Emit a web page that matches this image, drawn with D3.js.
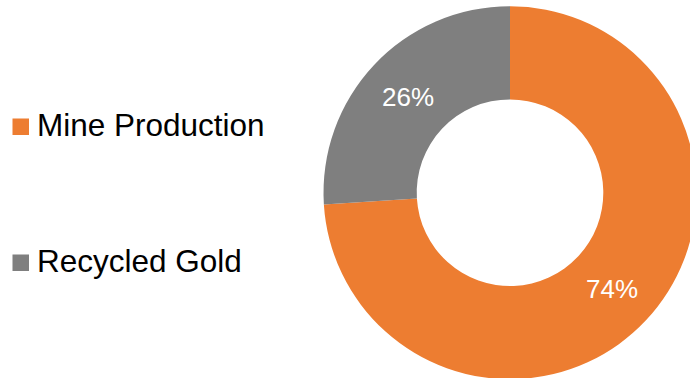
<!DOCTYPE html>
<html>
<head>
<meta charset="utf-8">
<script src="https://cdn.jsdelivr.net/npm/d3@7"></script>
<style>
  html, body { margin: 0; padding: 0; background: #fff; }
  svg { display: block; font-family: "Liberation Sans", Arial, sans-serif; }
</style>
</head>
<body>
<script>
// data
const categories = ["Mine Production", "Recycled Gold"];
const shares = [74, 26];
const colors = ["#ED7D31", "#7F7F7F"];

const width = 690, height = 378;
const cx = 510, cy = 192.7;
const outerR = 186.5, innerR = 93.3;

const svg = d3.select("body").append("svg")
    .attr("width", width)
    .attr("height", height);

const data = categories.map((c, i) => ({ name: c, value: shares[i], color: colors[i] }));

// donut
const pie = d3.pie().value(d => d.value).sort(null);
const arc = d3.arc().innerRadius(innerR).outerRadius(outerR);

const g = svg.append("g").attr("transform", "translate(" + cx + "," + cy + ")");

const slices = g.selectAll(".slice").data(pie(data)).enter().append("g").attr("class", "slice");

slices.append("path")
    .attr("d", arc)
    .attr("fill", d => d.data.color);

// percent labels at centroid
slices.append("text")
    .attr("transform", d => "translate(" + arc.centroid(d) + ")")
    .attr("text-anchor", "middle")
    .attr("dy", "0.36em")
    .attr("fill", "#fff")
    .attr("font-size", "26px")
    .text(d => d.data.value + "%");

// legend
const legendY = d3.scalePoint().domain(categories).range([136, 272]);

const legend = svg.selectAll(".legend").data(data).enter().append("g")
    .attr("class", "legend")
    .attr("transform", d => "translate(0," + legendY(d.name) + ")");

legend.append("rect")
    .attr("x", 12.5)
    .attr("y", -17.5)
    .attr("width", 16.5)
    .attr("height", 16.5)
    .attr("fill", d => d.color);

legend.append("text")
    .attr("x", 37)
    .attr("y", 0)
    .attr("font-size", "31.5px")
    .attr("fill", "#000")
    .text(d => d.name);
</script>
</body>
</html>
